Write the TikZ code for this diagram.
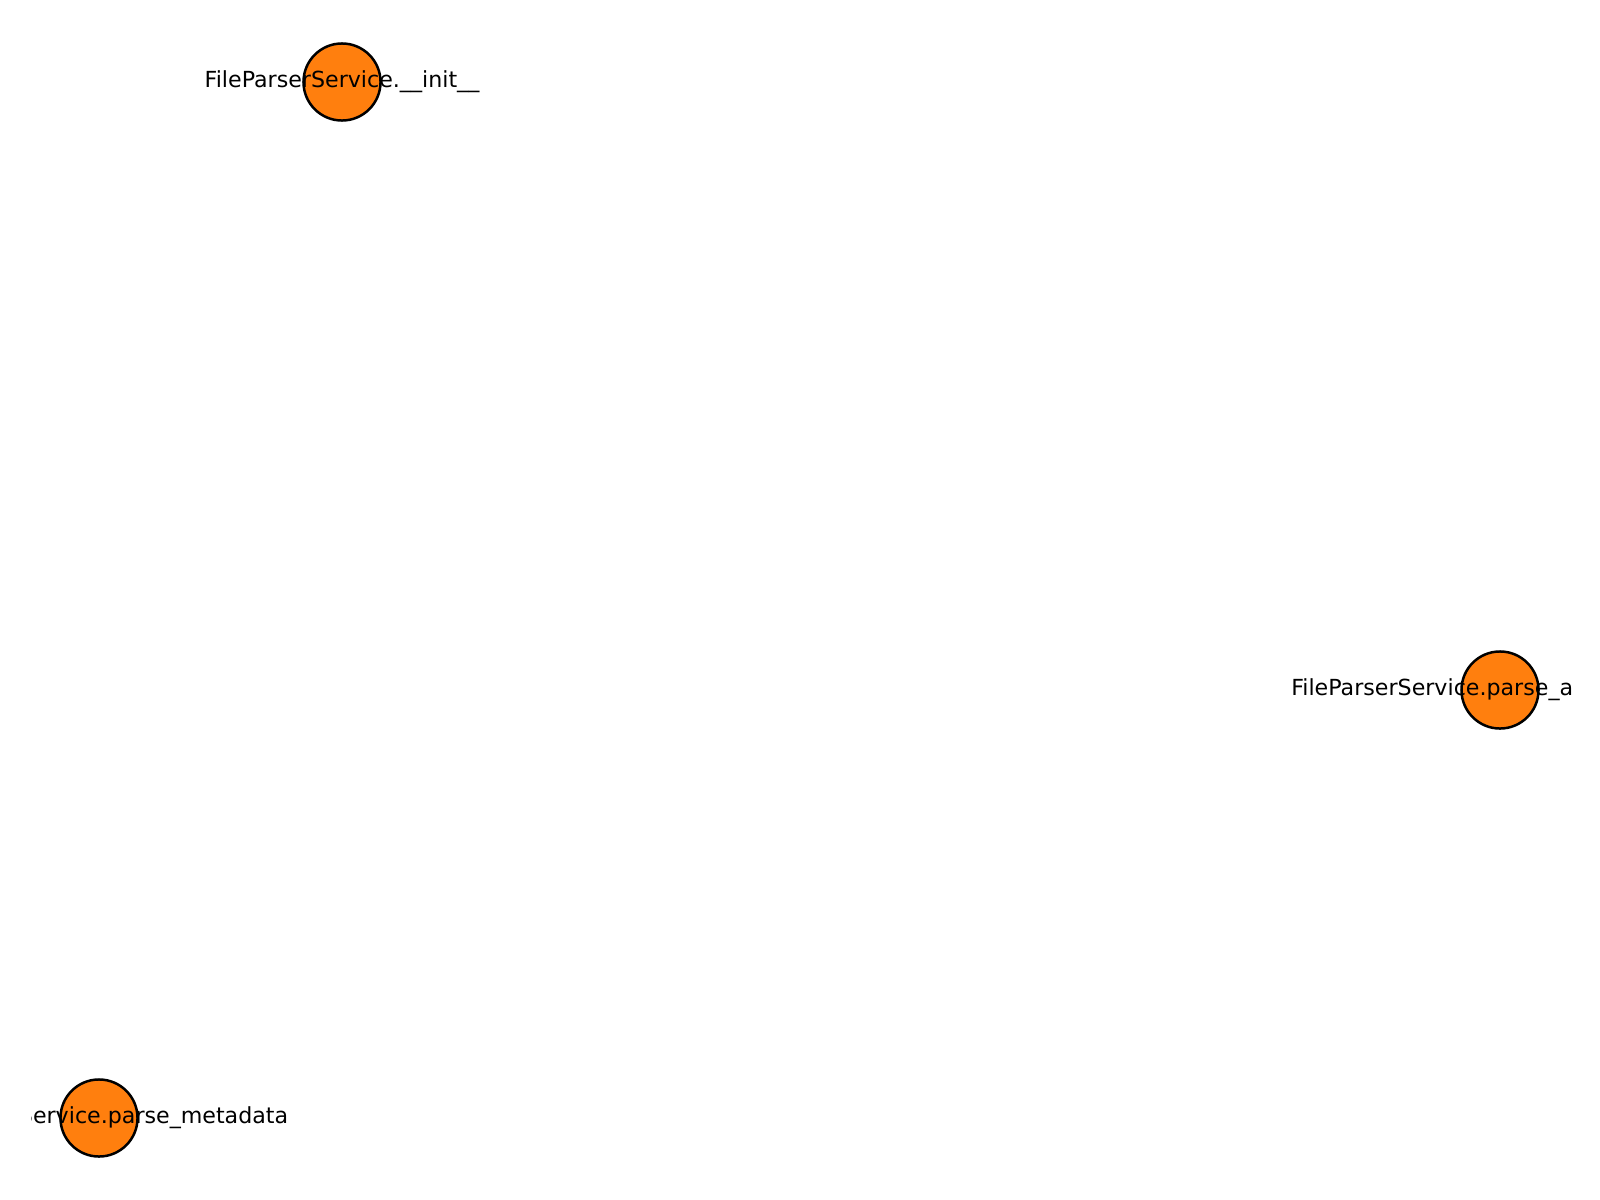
\documentclass[tikz,border=0pt]{standalone}
\usepackage{fontspec}
\setmainfont{DejaVu Sans}
\usepackage{tikz}
\usetikzlibrary{positioning}
\definecolor{fnorange}{HTML}{FF7F0E}

\begin{document}
\begin{tikzpicture}[x=0.01in,y=-0.01in,
  fn/.style={circle,draw=black,line width=1.8pt,fill=fnorange,minimum size=0.77in,inner sep=0pt},
  fnlabel/.style={font=\fontsize{16}{19}\selectfont,inner sep=0pt}]
\useasboundingbox (0,0) rectangle (1600,1200);
% call graph nodes
\node[fn] (init) at (342,82) {};
\node[fn] (parsea) at (1500,690) {};
\node[fn] (parsemeta) at (99,1118) {};
% labels, cut at the plot edges
\begin{scope}
\clip (31,0) rectangle (1572,1200);
\node[fnlabel] (initlabel) at (init) {FileParserService.\_\_init\_\_};
\node[fnlabel,anchor=west] (parsealabel) at (1291,690) {FileParserService.parse\_a};
\node[fnlabel] (parsemetalabel) at ([xshift=1]parsemeta) {FileParserService.parse\_metadata};
\end{scope}
\end{tikzpicture}
\end{document}
